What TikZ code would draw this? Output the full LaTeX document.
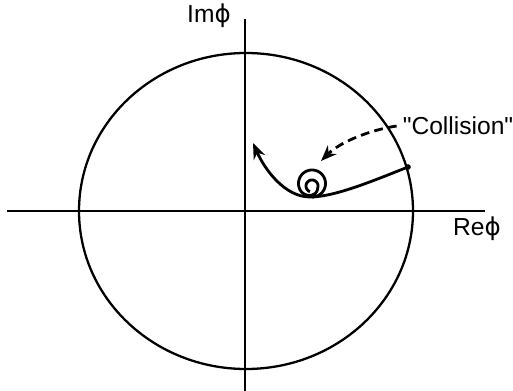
\documentclass[tikz,border=0pt]{standalone}
\usepackage{fontspec}
\setmainfont{Liberation Sans}
\newfontfamily\plainfont{Liberation Sans}
\newfontfamily\phifont{DejaVu Sans}
\usetikzlibrary{arrows.meta}
\newcommand{\phisym}{{\phifont ϕ}}

\begin{document}
\begin{tikzpicture}[
        x=0.02cm, y=-0.02cm,
        every node/.style={font=\fontsize{14}{16}\selectfont},
        axis/.style={line width=1.1pt},
        orbit/.style={line width=1.6pt},
        collide/.style={line width=1.6pt, dash pattern=on 5pt off 3pt},
        declare function={ramp(\t)=min(1,max(0,(\t-300)/140));
                          shrink(\t)=ramp(\t)*ramp(\t)*(3-2*ramp(\t));}
    ]
    \useasboundingbox (0,0) rectangle (513,391);

    % axes and unit circle
    \coordinate (o) at (246,211);
    \coordinate (xl) at (7,211);
    \coordinate (xr) at (485,211);
    \coordinate (yb) at (245,391);
    \coordinate (yt) at (245,19);
    \draw[axis] (xl) -- (xr);
    \draw[axis] (yb) -- (yt);
    \draw[line width=1.3pt] (o) ellipse [x radius=167, y radius=158];

    \node (re) at (477,229) {Re\phisym};
    \node (im) at (209,16) {Im\phisym};
    \node (coll) at (458,126) {\plainfont"Collision"};

    % trajectory
    \coordinate (d) at (408,167);
    \coordinate (b) at (310,197);
    \coordinate (tip) at (253,143);
    \coordinate (hit) at (321,161);
    \fill (d) circle [radius=1.6pt];
    \draw[orbit, -{Stealth[length=9pt,width=7pt]}] (d) .. controls (375,180) and (335,197) .. (b)
        .. controls (285,197) and (265,170) .. (tip);
    \draw[orbit] plot[domain=0:700, samples=160, smooth, variable=\t]
        ({312+(13.5-7.5*shrink(\t))*cos(90-\t)}, {183.5+2.5*shrink(\t)+(13.5-7.5*shrink(\t))*sin(90-\t)});
    \draw[collide, -{Stealth[length=9pt,width=7pt]}] (coll.west) .. controls (370,130) and (340,142) .. (hit);

\end{tikzpicture}
\end{document}
